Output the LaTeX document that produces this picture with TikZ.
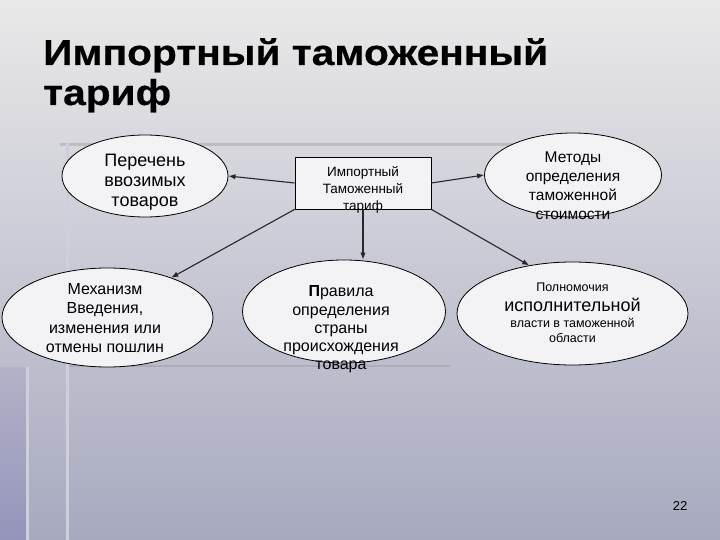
\documentclass[tikz,border=0pt]{standalone}
\usepackage{fontspec}
\setmainfont{Liberation Sans}
\newfontfamily\titlefont[FakeStretch=1.13,FakeBold=0.6]{Liberation Sans Bold}
\usetikzlibrary{shapes.geometric,arrows.meta}
\definecolor{bgtop}{HTML}{E9E9E9}
\definecolor{bgmid}{HTML}{C8C8D0}
\definecolor{bgbot}{HTML}{A7A9BF}
\definecolor{ellfill}{HTML}{F3F3F6}
\definecolor{decoline}{HTML}{BDBDC2}
\definecolor{decolow}{HTML}{ADADBA}
\definecolor{vline}{HTML}{CFCFDC}
\definecolor{leftstripA}{HTML}{B2B2C8}
\definecolor{leftstripB}{HTML}{9494BB}
\begin{document}
\begin{tikzpicture}[x=1pt,y=-1pt,
  ell/.style={ellipse,draw=black,line width=0.8pt,fill=ellfill,inner sep=0pt},
  box/.style={rectangle,draw=black,line width=0.8pt,fill=ellfill,inner sep=0pt},
  lbl/.style={align=center,inner sep=0pt,text=black},
  arr/.style={line width=1.1pt,draw=black!85,-{Latex[length=7pt,width=5.5pt]}},
  ttl/.style={font=\fontsize{36}{40}\titlefont,anchor=base west,inner sep=0pt}
]
\useasboundingbox (0,0) rectangle (720,540);
% background
\shade[top color=bgtop, middle color=bgmid, bottom color=bgbot] (0,0) rectangle (720,540);
\shade[top color=leftstripA, bottom color=leftstripB] (0,367) rectangle (27,540);
\fill[decoline] (60,143.5) rectangle (520,146.5);
\fill[decolow] (67,364.5) rectangle (450,366.5);
\fill[vline] (26,367) rectangle (28.5,540);
\fill[vline] (66,143) rectangle (68.5,540);

% title
\node[ttl] (title1) at (43,65) {Импортный таможенный};
\node[ttl] (title2) at (43,105) {тариф};

% shapes
\node[ell, minimum width=166pt, minimum height=82pt] (e1) at (145,176) {};
\node[box, minimum width=136pt, minimum height=52pt] (r) at (363,183) {};
\node[ell, minimum width=177pt, minimum height=84pt] (m) at (573,175) {};
\node[ell, minimum width=211pt, minimum height=99pt] (mech) at (107.5,317.5) {};
\node[ell, minimum width=203pt, minimum height=103pt] (rules) at (344,311.5) {};
\node[ell, minimum width=231pt, minimum height=103pt] (p) at (572.5,313.5) {};

% texts
\node[lbl, font=\fontsize{18}{20}\selectfont] (t1) at (145,182.4) {Перечень\\ввозимых\\товаров};
\node[lbl, font=\fontsize{13.5}{17}\selectfont] (tr) at (363,189.5) {Импортный\\Таможенный\\тариф};
\node[lbl, font=\fontsize{15.5}{19}\selectfont] (tm) at (573,186) {Методы\\определения\\таможенной\\стоимости};
\node[lbl, font=\fontsize{16}{19.5}\selectfont] (tmech) at (105,318) {Механизм\\Введения,\\изменения или\\отмены пошлин};
\node[lbl, font=\fontsize{16}{18.3}\selectfont] (trules) at (341,329.5) {\textbf{П}равила\\определения\\страны\\происхождения\\товара};
\node[lbl, font=\fontsize{12.5}{15}\selectfont] (tp) at (572.5,313) {Полномочия\\[5pt]{\fontsize{18}{20}\selectfont исполнительной}\\[1pt]власти в таможенной\\области};

% connectors
\draw[arr] (r.west) -- (e1.east);
\draw[arr] (r.south west) -- (mech.32);
\draw[arr] (r.south) -- (r.south |- rules.north);
\draw[arr] (r.east) -- (m.west);
\draw[arr] (r.south east) -- (p.132);

% page number
\node[font=\fontsize{13}{15}\selectfont, anchor=base, inner sep=0pt] (num) at (680,510) {22};
\end{tikzpicture}
\end{document}
